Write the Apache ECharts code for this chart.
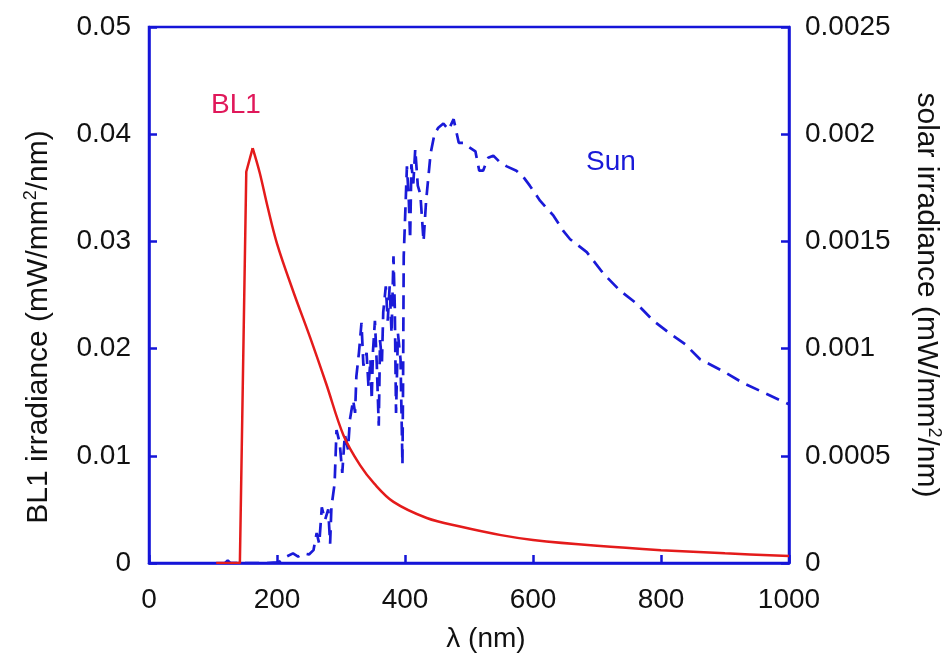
<!DOCTYPE html>
<html>
<head>
<meta charset="utf-8">
<script src="https://cdn.jsdelivr.net/npm/echarts@6/dist/echarts.min.js"></script>
<style>html,body{margin:0;padding:0;background:#fff}#c{width:951px;height:667px}</style>
</head>
<body>
<div id="c"></div>
<script>
// wavelength (nm), BL1 irradiance (mW/mm^2/nm): onset/rise up to the peak
const bl1Rise = [[105,0],[142,0],[152,0.0365],[162,0.0387]];
// wavelength (nm), BL1 irradiance (mW/mm^2/nm): decay after the peak
const bl1Decay = [[162,0.0387],[173,0.0364],[185,0.0333],[200,0.0298],[225,0.0254],[252,0.0210],[277,0.0167],[304,0.0119],[330,0.0091],[352,0.0074],[382,0.0057],[434,0.0042],[486,0.0034],[550,0.0026],[600,0.00215],[700,0.0016],[800,0.0012],[900,0.0009],[1000,0.00065]];
// wavelength (nm), solar irradiance (mW/mm^2/nm)
const sunData = [[119,0],[123,0.000012],[127,0],[184,0],[200,0.000003],[205,0.000008],[215,0.00003],[225,0.000045],[233,0.00003],[241,0.000045],[250,0.00004],[257,0.00006],[262,0.00014],[266,0.00009],[270,0.00026],[275,0.0002],[280,0.00025],[283,0.00009],[285,0.00026],[290,0.00037],[293,0.00062],[298,0.00056],[302,0.00042],[306,0.0006],[311,0.00053],[314,0.00067],[319,0.00076],[322,0.0007],[324,0.00087],[328,0.00098],[332,0.00112],[335,0.00092],[340,0.00098],[343,0.00082],[346,0.00095],[348,0.00076],[350,0.00099],[353,0.00113],[356,0.00092],[359,0.00064],[361,0.00104],[364,0.00094],[366,0.00117],[370,0.00129],[373,0.00113],[376,0.00129],[379,0.00107],[382,0.00143],[384,0.0012],[386,0.0007],[389,0.00107],[393,0.00095],[396,0.00046],[397,0.00084],[398,0.00143],[403,0.00185],[406,0.00169],[408,0.00151],[410,0.00186],[413,0.00177],[416,0.00193],[420,0.00176],[424,0.00172],[429,0.0015],[433,0.00169],[440,0.00191],[446,0.002],[452,0.00203],[460,0.00205],[468,0.00202],[476,0.00207],[484,0.00196],[492,0.00196],[500,0.00194],[510,0.00192],[516,0.00183],[522,0.00183],[530,0.00189],[538,0.0019],[548,0.00187],[559,0.00185],[574,0.00183],[585,0.0018],[595,0.00176],[611,0.00169],[632,0.00162],[647,0.00155],[658,0.00151],[684,0.00145],[710,0.00135],[736,0.00127],[762,0.00121],[788,0.00113],[814,0.00107],[838,0.00102],[861,0.00095],[900,0.00089],[928,0.00084],[1000,0.00074]];
const xTicks = [0,200,400,600,800,1000];
const leftTicks = [0,0.01,0.02,0.03,0.04,0.05];
const rightTicks = [0,0.0005,0.001,0.0015,0.002,0.0025];

const AX = '#1515d8';
const FONT = 'Liberation Sans, Arial, sans-serif';
const supStyle = {s:{fontFamily:FONT, fontSize:18, color:'#111', verticalAlign:'top', padding:[0,0,15,0]}};
const chart = echarts.init(document.getElementById('c'));
chart.setOption({
  animation: false,
  backgroundColor: '#fff',
  grid: {left:149, right:161, top:27, bottom:104, show:true, borderColor:AX, borderWidth:2.5, backgroundColor:'transparent'},
  xAxis: {
    type:'value', min:xTicks[0], max:xTicks[xTicks.length-1], interval:xTicks[1]-xTicks[0],
    name:'λ (nm)', nameLocation:'middle', nameGap:62,
    nameTextStyle:{fontFamily:FONT, fontSize:28, color:'#111', padding:[0,0,0,34]},
    axisLine:{show:true, lineStyle:{color:AX, width:2.5}},
    axisTick:{show:true, inside:true, length:8, lineStyle:{color:AX, width:2.5}},
    axisLabel:{fontFamily:FONT, fontSize:28, color:'#111', margin:23, formatter:v => String(v)},
    splitLine:{show:false}
  },
  yAxis: [{
    type:'value', min:leftTicks[0], max:leftTicks[leftTicks.length-1], interval:0.01, position:'left',
    name:'BL1 irradiance (mW/mm{s|2}/nm)', nameLocation:'middle', nameGap:94, nameRotate:90,
    nameTextStyle:{fontFamily:FONT, fontSize:30, color:'#111', padding:[0,64,0,0], rich:supStyle},
    axisLine:{show:true, lineStyle:{color:AX, width:2.5}},
    axisTick:{show:true, inside:true, length:8, lineStyle:{color:AX, width:2.5}},
    axisLabel:{fontFamily:FONT, fontSize:28, color:'#111', margin:18},
    splitLine:{show:false}
  },{
    type:'value', min:rightTicks[0], max:rightTicks[rightTicks.length-1], interval:0.0005, position:'right',
    name:'solar irradiance (mW/mm{s|2}/nm)', nameLocation:'middle', nameGap:121, nameRotate:-90,
    nameTextStyle:{fontFamily:FONT, fontSize:30, color:'#111', rich:supStyle},
    axisLine:{show:true, lineStyle:{color:AX, width:2.5}},
    axisTick:{show:true, inside:true, length:8, lineStyle:{color:AX, width:2.5}},
    axisLabel:{fontFamily:FONT, fontSize:28, color:'#111', margin:16},
    splitLine:{show:false}
  }],
  series: [{
    name:'BL1', type:'line', yAxisIndex:0, data:bl1Rise, showSymbol:false, symbol:'none',
    lineStyle:{color:'#e41b1b', width:2.5}, z:3
  },{
    name:'BL1 decay', type:'line', yAxisIndex:0, data:bl1Decay, showSymbol:false, symbol:'none', smooth:0.35,
    lineStyle:{color:'#e41b1b', width:2.5}, z:3
  },{
    name:'Sun', type:'line', yAxisIndex:1, data:sunData, showSymbol:false, symbol:'none',
    lineStyle:{color:'#1a1ad8', width:2.7, type:[14,8]}, z:2
  }],
  graphic: [
    {type:'text', left:211, top:91, style:{text:'BL1', fontFamily:FONT, fontSize:28, fill:'#e0185a'}},
    {type:'text', left:586, top:148, style:{text:'Sun', fontFamily:FONT, fontSize:28, fill:'#1a1ad8'}}
  ]
});
</script>
</body>
</html>
